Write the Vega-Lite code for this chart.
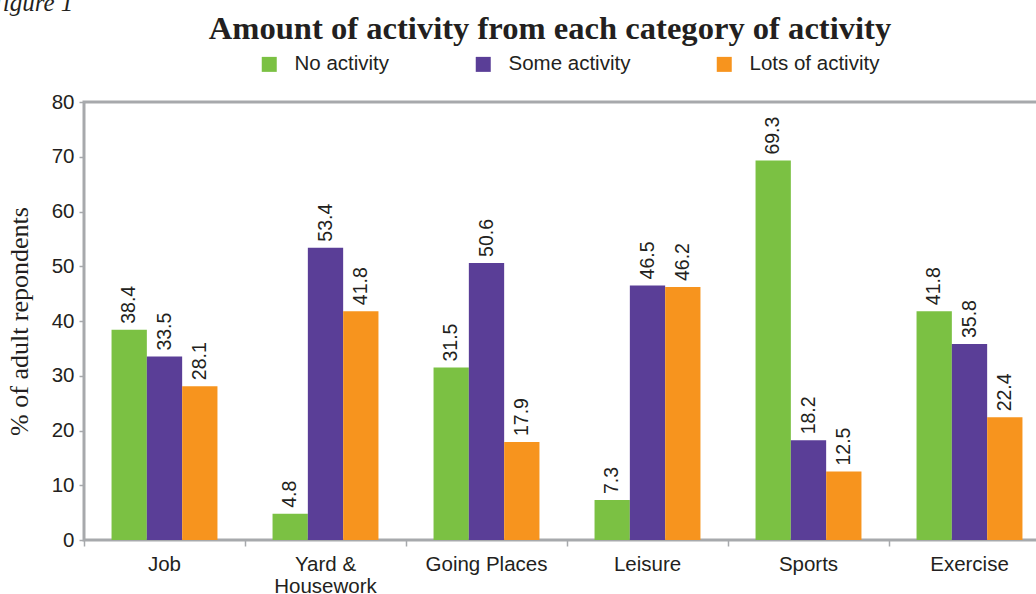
{
  "$schema": "https://vega.github.io/schema/vega-lite/v6.json",
  "width": 966,
  "height": 438,
  "autosize": {"type": "none"},
  "padding": {"left": 84, "top": 102, "right": 0, "bottom": 54},
  "background": "white",
  "title": {
    "text": "Amount of activity from each category of activity",
    "anchor": "middle",
    "frame": "group",
    "dx": -17,
    "offset": -56,
    "font": "Liberation Serif",
    "fontSize": 32.6,
    "fontWeight": "bold",
    "color": "#231f20"
  },
  "data": {
    "values": [
      {"category": "Job", "level": "No activity", "value": 38.4},
      {"category": "Job", "level": "Some activity", "value": 33.5},
      {"category": "Job", "level": "Lots of activity", "value": 28.1},
      {"category": "Yard & Housework", "level": "No activity", "value": 4.8},
      {"category": "Yard & Housework", "level": "Some activity", "value": 53.4},
      {"category": "Yard & Housework", "level": "Lots of activity", "value": 41.8},
      {"category": "Going Places", "level": "No activity", "value": 31.5},
      {"category": "Going Places", "level": "Some activity", "value": 50.6},
      {"category": "Going Places", "level": "Lots of activity", "value": 17.9},
      {"category": "Leisure", "level": "No activity", "value": 7.3},
      {"category": "Leisure", "level": "Some activity", "value": 46.5},
      {"category": "Leisure", "level": "Lots of activity", "value": 46.2},
      {"category": "Sports", "level": "No activity", "value": 69.3},
      {"category": "Sports", "level": "Some activity", "value": 18.2},
      {"category": "Sports", "level": "Lots of activity", "value": 12.5},
      {"category": "Exercise", "level": "No activity", "value": 41.8},
      {"category": "Exercise", "level": "Some activity", "value": 35.8},
      {"category": "Exercise", "level": "Lots of activity", "value": 22.4}
    ]
  },
  "encoding": {
    "x": {
      "field": "category",
      "type": "nominal",
      "sort": ["Job", "Yard & Housework", "Going Places", "Leisure", "Sports", "Exercise"],
      "scale": {"paddingInner": 0, "paddingOuter": 0}
    },
    "xOffset": {
      "field": "level",
      "type": "nominal",
      "sort": ["No activity", "Some activity", "Lots of activity"],
      "scale": {"paddingInner": 0, "paddingOuter": 0.78}
    },
    "y": {
      "field": "value",
      "type": "quantitative",
      "scale": {"domain": [0, 80], "nice": false},
      "axis": {
        "title": "% of adult repondents",
        "titleFont": "Liberation Serif",
        "titleFontSize": 26,
        "titleFontWeight": "normal",
        "titleColor": "#231f20",
        "titlePadding": 19,
        "values": [0, 10, 20, 30, 40, 50, 60, 70, 80],
        "grid": false,
        "domain": false,
        "tickColor": "#a7a9ac",
        "tickSize": 5,
        "tickWidth": 1.5,
        "labelFont": "Liberation Sans",
        "labelFontSize": 20.5,
        "labelColor": "#231f20",
        "labelPadding": 5
      }
    }
  },
  "layer": [
    {
      "mark": {"type": "bar"},
      "encoding": {
        "x": {
          "field": "category",
          "type": "nominal",
          "sort": ["Job", "Yard & Housework", "Going Places", "Leisure", "Sports", "Exercise"],
          "axis": {
            "title": null,
            "domain": false,
            "bandPosition": 0,
            "ticks": true,
            "tickSize": 6,
            "tickColor": "#a7a9ac",
            "tickWidth": 1.5,
            "labelAngle": 0,
            "labelPadding": 8,
            "labelBaseline": "top",
            "labelFont": "Liberation Sans",
            "labelFontSize": 20.5,
            "labelColor": "#231f20",
            "labelLimit": 300,
            "labelLineHeight": 22,
            "labelExpr": "datum.value == 'Yard & Housework' ? ['Yard &', 'Housework'] : datum.value"
          }
        },
        "color": {
          "field": "level",
          "type": "nominal",
          "sort": ["No activity", "Some activity", "Lots of activity"],
          "scale": {
            "domain": ["No activity", "Some activity", "Lots of activity"],
            "range": ["#7bc143", "#5a3e97", "#f7941e"]
          },
          "legend": {
            "title": null,
            "orient": "none",
            "legendX": 175,
            "legendY": -48,
            "direction": "horizontal",
            "symbolType": "square",
            "symbolSize": 225,
            "symbolStrokeWidth": 0,
            "symbolOpacity": 1,
            "labelFont": "Liberation Sans",
            "labelFontSize": 20.5,
            "labelColor": "#231f20",
            "labelOffset": 15,
            "labelLimit": 300,
            "columnPadding": 83
          }
        }
      }
    },
    {
      "mark": {
        "type": "text",
        "angle": 270,
        "align": "left",
        "baseline": "middle",
        "dx": 6,
        "font": "Liberation Sans",
        "fontSize": 19.5,
        "color": "#231f20"
      },
      "encoding": {
        "x": {
          "field": "category",
          "type": "nominal",
          "sort": ["Job", "Yard & Housework", "Going Places", "Leisure", "Sports", "Exercise"],
          "axis": {
            "orient": "top",
            "title": "Figure 1",
            "labels": false,
            "ticks": false,
            "domain": false,
            "titleX": -97,
            "titleY": -92,
            "titleAlign": "left",
            "titleAnchor": "start",
            "titleBaseline": "alphabetic",
            "titleAngle": 0,
            "titleFont": "Liberation Serif",
            "titleFontStyle": "italic",
            "titleFontWeight": "normal",
            "titleFontSize": 25,
            "titleColor": "#231f20"
          }
        },
        "text": {"field": "value", "type": "quantitative", "format": ".1f"}
      }
    }
  ],
  "resolve": {"axis": {"x": "independent"}},
  "config": {
    "view": {"stroke": "#a7a9ac", "strokeWidth": 3}
  }
}
